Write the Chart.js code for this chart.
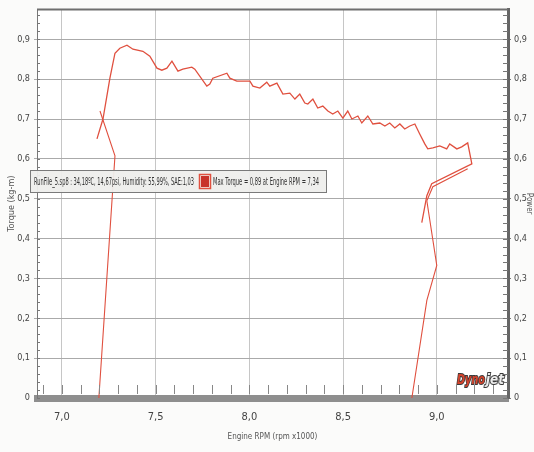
<!DOCTYPE html>
<html>
<head>
<meta charset="utf-8">
<script src="https://cdn.jsdelivr.net/npm/chart.js@4.4.0/dist/chart.umd.min.js"></script>
<style>
  html, body { margin: 0; padding: 0; background: #fbfbfa; }
</style>
</head>
<body>
<canvas id="dyno" width="534" height="452"></canvas>
<script>
const xTicks = [7.0, 7.5, 8.0, 8.5, 9.0];
const yTicks = [0, 0.1, 0.2, 0.3, 0.4, 0.5, 0.6, 0.7, 0.8, 0.9];

// torque trace (rpm x1000, kg-m)
const torqueRpm = [7.187, 7.219, 7.256, 7.283, 7.309, 7.347, 7.379, 7.432, 7.469, 7.507,
  7.533, 7.56, 7.587, 7.619, 7.645, 7.693, 7.709, 7.773, 7.789, 7.805,
  7.88, 7.896, 7.933, 8.003, 8.019, 8.056, 8.093, 8.109, 8.147, 8.179,
  8.216, 8.243, 8.269, 8.296, 8.312, 8.339, 8.365, 8.392, 8.419, 8.445,
  8.472, 8.499, 8.525, 8.547, 8.579, 8.6, 8.632, 8.659, 8.696, 8.723,
  8.749, 8.776, 8.803, 8.829, 8.856, 8.883, 8.909, 8.936, 8.952, 8.979,
  9.016, 9.053, 9.069, 9.107, 9.133, 9.165, 9.187, 8.973, 8.947, 8.92];
const torqueVal = [0.65, 0.70, 0.8025, 0.865, 0.8775, 0.885, 0.875, 0.87, 0.8575, 0.8275,
  0.8225, 0.8275, 0.845, 0.82, 0.825, 0.83, 0.825, 0.7825, 0.7875, 0.8025,
  0.815, 0.8025, 0.795, 0.795, 0.7825, 0.7775, 0.7925, 0.7825, 0.79, 0.7625,
  0.765, 0.75, 0.7625, 0.74, 0.7375, 0.75, 0.7275, 0.7325, 0.72, 0.7125,
  0.72, 0.7025, 0.72, 0.70, 0.7075, 0.69, 0.7075, 0.6875, 0.69, 0.6825,
  0.69, 0.6775, 0.6875, 0.675, 0.6825, 0.6875, 0.6625, 0.6375, 0.625, 0.6275,
  0.6325, 0.625, 0.6375, 0.625, 0.63, 0.64, 0.5875, 0.5375, 0.5075, 0.44];

// run-up and coast-down traces
const rampInRpm  = [7.197, 7.283, 7.203];
const rampInVal  = [0, 0.6075, 0.72];
const rampOutRpm = [8.867, 8.947, 9.0, 8.947, 8.979, 9.165];
const rampOutVal = [0, 0.245, 0.3325, 0.495, 0.53, 0.575];

const infoText = 'RunFile_5.sp8 : 34,18ºC, 14,67psi, Humidity: 55,99%, SAE:1,03';
const maxText  = 'Max Torque = 0,89 at Engine RPM = 7,34';

const lineColor = '#e0503f';
const font = '"DejaVu Sans Condensed", "Liberation Sans Narrow", "Liberation Sans", sans-serif';
const fmt = v => v === 0 ? '0' : v.toFixed(1).replace('.', ',');
const pts = (xs, ys) => xs.map((x, i) => ({ x: x, y: ys[i] }));

const decor = {
  id: 'decor',
  beforeDraw(chart) {
    const ctx = chart.ctx, a = chart.chartArea;
    ctx.save();
    ctx.fillStyle = '#fbfbfa';
    ctx.fillRect(0, 0, chart.width, chart.height);
    ctx.fillStyle = '#ffffff';
    ctx.fillRect(a.left, a.top, a.right - a.left, a.bottom - a.top);
    ctx.restore();
  },
  afterDraw(chart) {
    const ctx = chart.ctx, a = chart.chartArea;
    const xs = chart.scales.x, ys = chart.scales.y;
    ctx.save();
    // frame top
    ctx.strokeStyle = '#6f6f6f';
    ctx.lineWidth = 2;
    ctx.beginPath();
    ctx.moveTo(a.left, a.top);
    ctx.lineTo(a.right, a.top);
    ctx.stroke();
    // minor ticks on the y axes
    ctx.strokeStyle = '#777';
    ctx.lineWidth = 1;
    for (let v = 0; v <= 0.97; v += 0.02) {
      const py = Math.round(ys.getPixelForValue(v)) + 0.5;
      ctx.beginPath();
      ctx.moveTo(a.left, py); ctx.lineTo(a.left + 3, py);
      ctx.moveTo(a.right - 5, py); ctx.lineTo(a.right, py);
      ctx.stroke();
    }
    // minor ticks above the rpm axis
    ctx.strokeStyle = '#888';
    for (let v = 6.9; v < 9.38; v += 0.1) {
      const px = Math.round(xs.getPixelForValue(v)) + 0.5;
      ctx.beginPath();
      ctx.moveTo(px, a.bottom - 4); ctx.lineTo(px, a.bottom - 13);
      ctx.stroke();
    }
    // run info box
    ctx.fillStyle = 'rgba(238,238,236,0.95)';
    ctx.fillRect(30, 170, 296, 22);
    ctx.strokeStyle = '#7a7a7a';
    ctx.strokeRect(30.5, 170.5, 296, 22);
    ctx.fillStyle = '#333';
    ctx.font = '10px ' + font;
    ctx.textBaseline = 'middle';
    ctx.fillText(infoText, 34, 182, 160);
    ctx.fillStyle = '#c8332a';
    ctx.fillRect(201, 176, 8, 11);
    ctx.strokeStyle = '#e0503f';
    ctx.lineWidth = 1.5;
    ctx.strokeRect(199.5, 174.5, 11, 14);
    ctx.fillStyle = '#333';
    ctx.fillText(maxText, 213, 182, 106);
    // dynojet logo
    ctx.font = 'italic bold 14px "DejaVu Sans", sans-serif';
    ctx.textBaseline = 'alphabetic';
    ctx.lineWidth = 2;
    ctx.strokeStyle = '#3a3a3a';
    ctx.strokeText('Dyno', 457, 384, 28);
    ctx.fillStyle = '#d4432c';
    ctx.fillText('Dyno', 457, 384, 28);
    ctx.strokeText('jet', 486, 384, 18);
    ctx.fillStyle = '#eeeeee';
    ctx.fillText('jet', 486, 384, 18);
    ctx.restore();
  }
};

new Chart(document.getElementById('dyno'), {
  type: 'scatter',
  data: {
    datasets: [
      { label: 'Torque', data: pts(torqueRpm, torqueVal), showLine: true, borderColor: lineColor,
        borderWidth: 1.3, pointRadius: 0, tension: 0 },
      { label: 'Run-up', data: pts(rampInRpm, rampInVal), showLine: true, borderColor: lineColor,
        borderWidth: 1.1, pointRadius: 0, tension: 0 },
      { label: 'Coast-down', data: pts(rampOutRpm, rampOutVal), showLine: true, borderColor: lineColor,
        borderWidth: 1.1, pointRadius: 0, tension: 0 }
    ]
  },
  options: {
    responsive: false,
    animation: false,
    layout: { padding: { top: 8, left: 0, right: 0, bottom: 0 } },
    plugins: { legend: { display: false }, tooltip: { enabled: false } },
    scales: {
      x: {
        type: 'linear', min: 6.867, max: 9.38, position: 'bottom',
        afterBuildTicks: s => { s.ticks = xTicks.map(v => ({ value: v })); },
        afterFit: s => { s.height = 54; },
        ticks: { callback: fmt, color: '#444', font: { family: font, size: 11 }, padding: 9 },
        grid: { color: '#c6c6c6', tickLength: 4 },
        border: { color: '#8e8e8e', width: 7 },
        title: { display: true, text: 'Engine RPM (rpm x1000)', color: '#555',
                 font: { family: font, size: 8 }, padding: { top: 2, bottom: 10 } }
      },
      y: {
        type: 'linear', min: 0, max: 0.975, position: 'left',
        afterBuildTicks: s => { s.ticks = yTicks.map(v => ({ value: v })); },
        afterFit: s => { s.width = 37; },
        ticks: { callback: fmt, color: '#444', font: { family: font, size: 9 }, padding: 4 },
        grid: { color: '#aaaaaa', tickLength: 3 },
        border: { color: '#777', width: 1 },
        title: { display: true, text: 'Torque (kg-m)', color: '#555',
                 font: { family: font, size: 9 }, padding: { top: 6, bottom: 0 } }
      },
      y2: {
        type: 'linear', min: 0, max: 0.975, position: 'right',
        afterBuildTicks: s => { s.ticks = yTicks.map(v => ({ value: v })); },
        afterFit: s => { s.width = 26; },
        ticks: { callback: fmt, color: '#444', font: { family: font, size: 9 }, padding: 3 },
        grid: { drawOnChartArea: false, color: '#777', tickLength: 3 },
        border: { color: '#666', width: 3 },
        title: { display: true, text: 'Power', color: '#555',
                 font: { family: font, size: 8 }, padding: { top: 0, bottom: 2 } }
      }
    }
  },
  plugins: [decor]
});
</script>
</body>
</html>
